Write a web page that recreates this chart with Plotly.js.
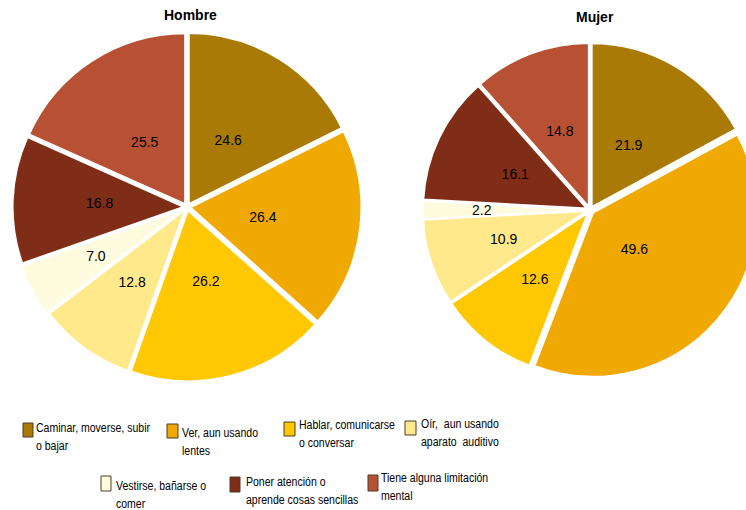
<!DOCTYPE html>
<html><head><meta charset="utf-8">
<script src="https://cdn.plot.ly/plotly-3.0.1.min.js"></script>
<style>html,body{margin:0;padding:0;overflow:hidden;width:746px;height:510px;background:#fff}#chart{width:780px;height:510px}</style>
</head><body><div id="chart"></div><script>
// ---- data ----
const categories = [
  "Caminar, moverse, subir o bajar",
  "Ver, aun usando lentes",
  "Hablar, comunicarse o conversar",
  "Oír,  aun usando aparato  auditivo",
  "Vestirse, bañarse o comer",
  "Poner atención o aprende cosas sencillas",
  "Tiene alguna limitación mental"
];
const legendLines = [
  ["Caminar, moverse, subir", "o bajar"],
  ["Ver, aun usando", "lentes"],
  ["Hablar, comunicarse", "o conversar"],
  ["Oír,  aun usando", "aparato  auditivo"],
  ["Vestirse, bañarse o", "comer"],
  ["Poner atención o", "aprende cosas sencillas"],
  ["Tiene alguna limitación", "mental"]
];
const hombreValues = [24.6, 26.4, 26.2, 12.8, 7.0, 16.8, 25.5];
const mujerValues  = [21.9, 49.6, 12.6, 10.9, 2.2, 16.1, 14.8];
const panelTitles = ["Hombre", "Mujer"];

// ---- styles ----
const colors = ["#A97A05", "#F0A803", "#FFC802", "#FFE98B", "#FFFBDE", "#7F2D16", "#B85033"];
const W = 780, H = 510;
const FONT = "Liberation Sans, Arial, sans-serif";
const px = x => x / W, py = y => 1 - y / H;

// geometry: [centerX, centerY, radius, pulls]
const panels = [
  {values: hombreValues, cx: 187, cy: 207, r: 171, pull: [0.02, 0.02, 0.02, 0.02, 0.03, 0.02, 0.02]},
  {values: mujerValues,  cx: 590, cy: 210, r: 164, pull: [0.02, 0.025, 0.02, 0.02, 0.02, 0.02, 0.02]}
];
const LABEL_K = 0.7;

function domainFor(cx, cy, half) {
  return {x: [px(cx - half), px(cx + half)], y: [py(cy + half), py(cy - half)]};
}

const traces = [];
panels.forEach(p => {
  const maxPull = Math.max.apply(null, p.pull);
  traces.push({
    type: "pie", values: p.values, labels: categories, sort: false,
    direction: "clockwise", rotation: 0,
    marker: {colors: colors, line: {color: "#ffffff", width: 2}},
    pull: p.pull, textinfo: "none",
    hoverinfo: "none", showlegend: false,
    domain: domainFor(p.cx, p.cy, p.r * (1 + maxPull))
  });
  // transparent overlay pie that only carries the value labels
  traces.push({
    type: "pie", values: p.values, labels: categories, sort: false,
    direction: "clockwise", rotation: 0,
    marker: {colors: categories.map(() => "rgba(0,0,0,0)"), line: {width: 0}},
    texttemplate: "%{value:.1f}", textposition: "inside",
    insidetextorientation: "horizontal",
    textfont: {family: FONT, size: 14, color: "#000000"},
    hoverinfo: "none", showlegend: false,
    domain: domainFor(p.cx, p.cy, p.r * LABEL_K)
  });
});

const annotations = [
  {text: "<b>" + panelTitles[0] + "</b>", x: px(190), y: py(15)},
  {text: "<b>" + panelTitles[1] + "</b>", x: px(595), y: py(17)}
].map(a => Object.assign(a, {xref: "paper", yref: "paper", showarrow: false,
  xanchor: "center", yanchor: "middle", font: {family: FONT, size: 14, color: "#000"}}));

// legend layout: [sqX, sqY, sqW, sqH, textX, line1CenterY]
const legendPos = [
  [23, 423, 10, 14, 34, 428],
  [167, 424, 11, 14, 180, 433],
  [284, 422, 11, 14, 297, 425],
  [405, 421, 11, 14, 419, 424],
  [101, 476, 10, 15, 114, 486],
  [230, 477, 10, 15, 244, 482],
  [368, 475, 10, 16, 379, 478]
];
const shapes = [];
legendPos.forEach((p, i) => {
  shapes.push({type: "rect", xref: "paper", yref: "paper",
    x0: px(p[0]), x1: px(p[0] + p[2]), y0: py(p[1] + p[3]), y1: py(p[1]),
    fillcolor: colors[i], line: {color: "#4a3c28", width: 1}});
  annotations.push({xref: "paper", yref: "paper", showarrow: false,
    x: px(p[4]), y: py(p[5] - 10), xanchor: "left", yanchor: "top", align: "left",
    text: legendLines[i].join("<br>"),
    font: {family: FONT, size: 13.5, color: "#000"}});
});

Plotly.newPlot("chart", traces, {
  width: W, height: H, margin: {l: 0, r: 0, t: 0, b: 0},
  paper_bgcolor: "#ffffff", plot_bgcolor: "#ffffff",
  uniformtext: {mode: "show", minsize: 14},
  annotations: annotations, shapes: shapes
}, {staticPlot: true}).then(gd => {
  // condensed look for the legend text (reference uses a narrow face)
  const groups = gd.querySelectorAll(".annotation");
  groups.forEach((g, i) => {
    if (i < 2) return;
    const t = g.querySelector("text.annotation-text");
    if (!t) return;
    const bb = t.getBBox();
    const x0 = bb.x;
    const prev = t.getAttribute("transform") || "";
    t.setAttribute("transform", prev + " translate(" + x0 + ",0) scale(0.78,1) translate(" + (-x0) + ",0)");
  });
});
</script></body></html>
